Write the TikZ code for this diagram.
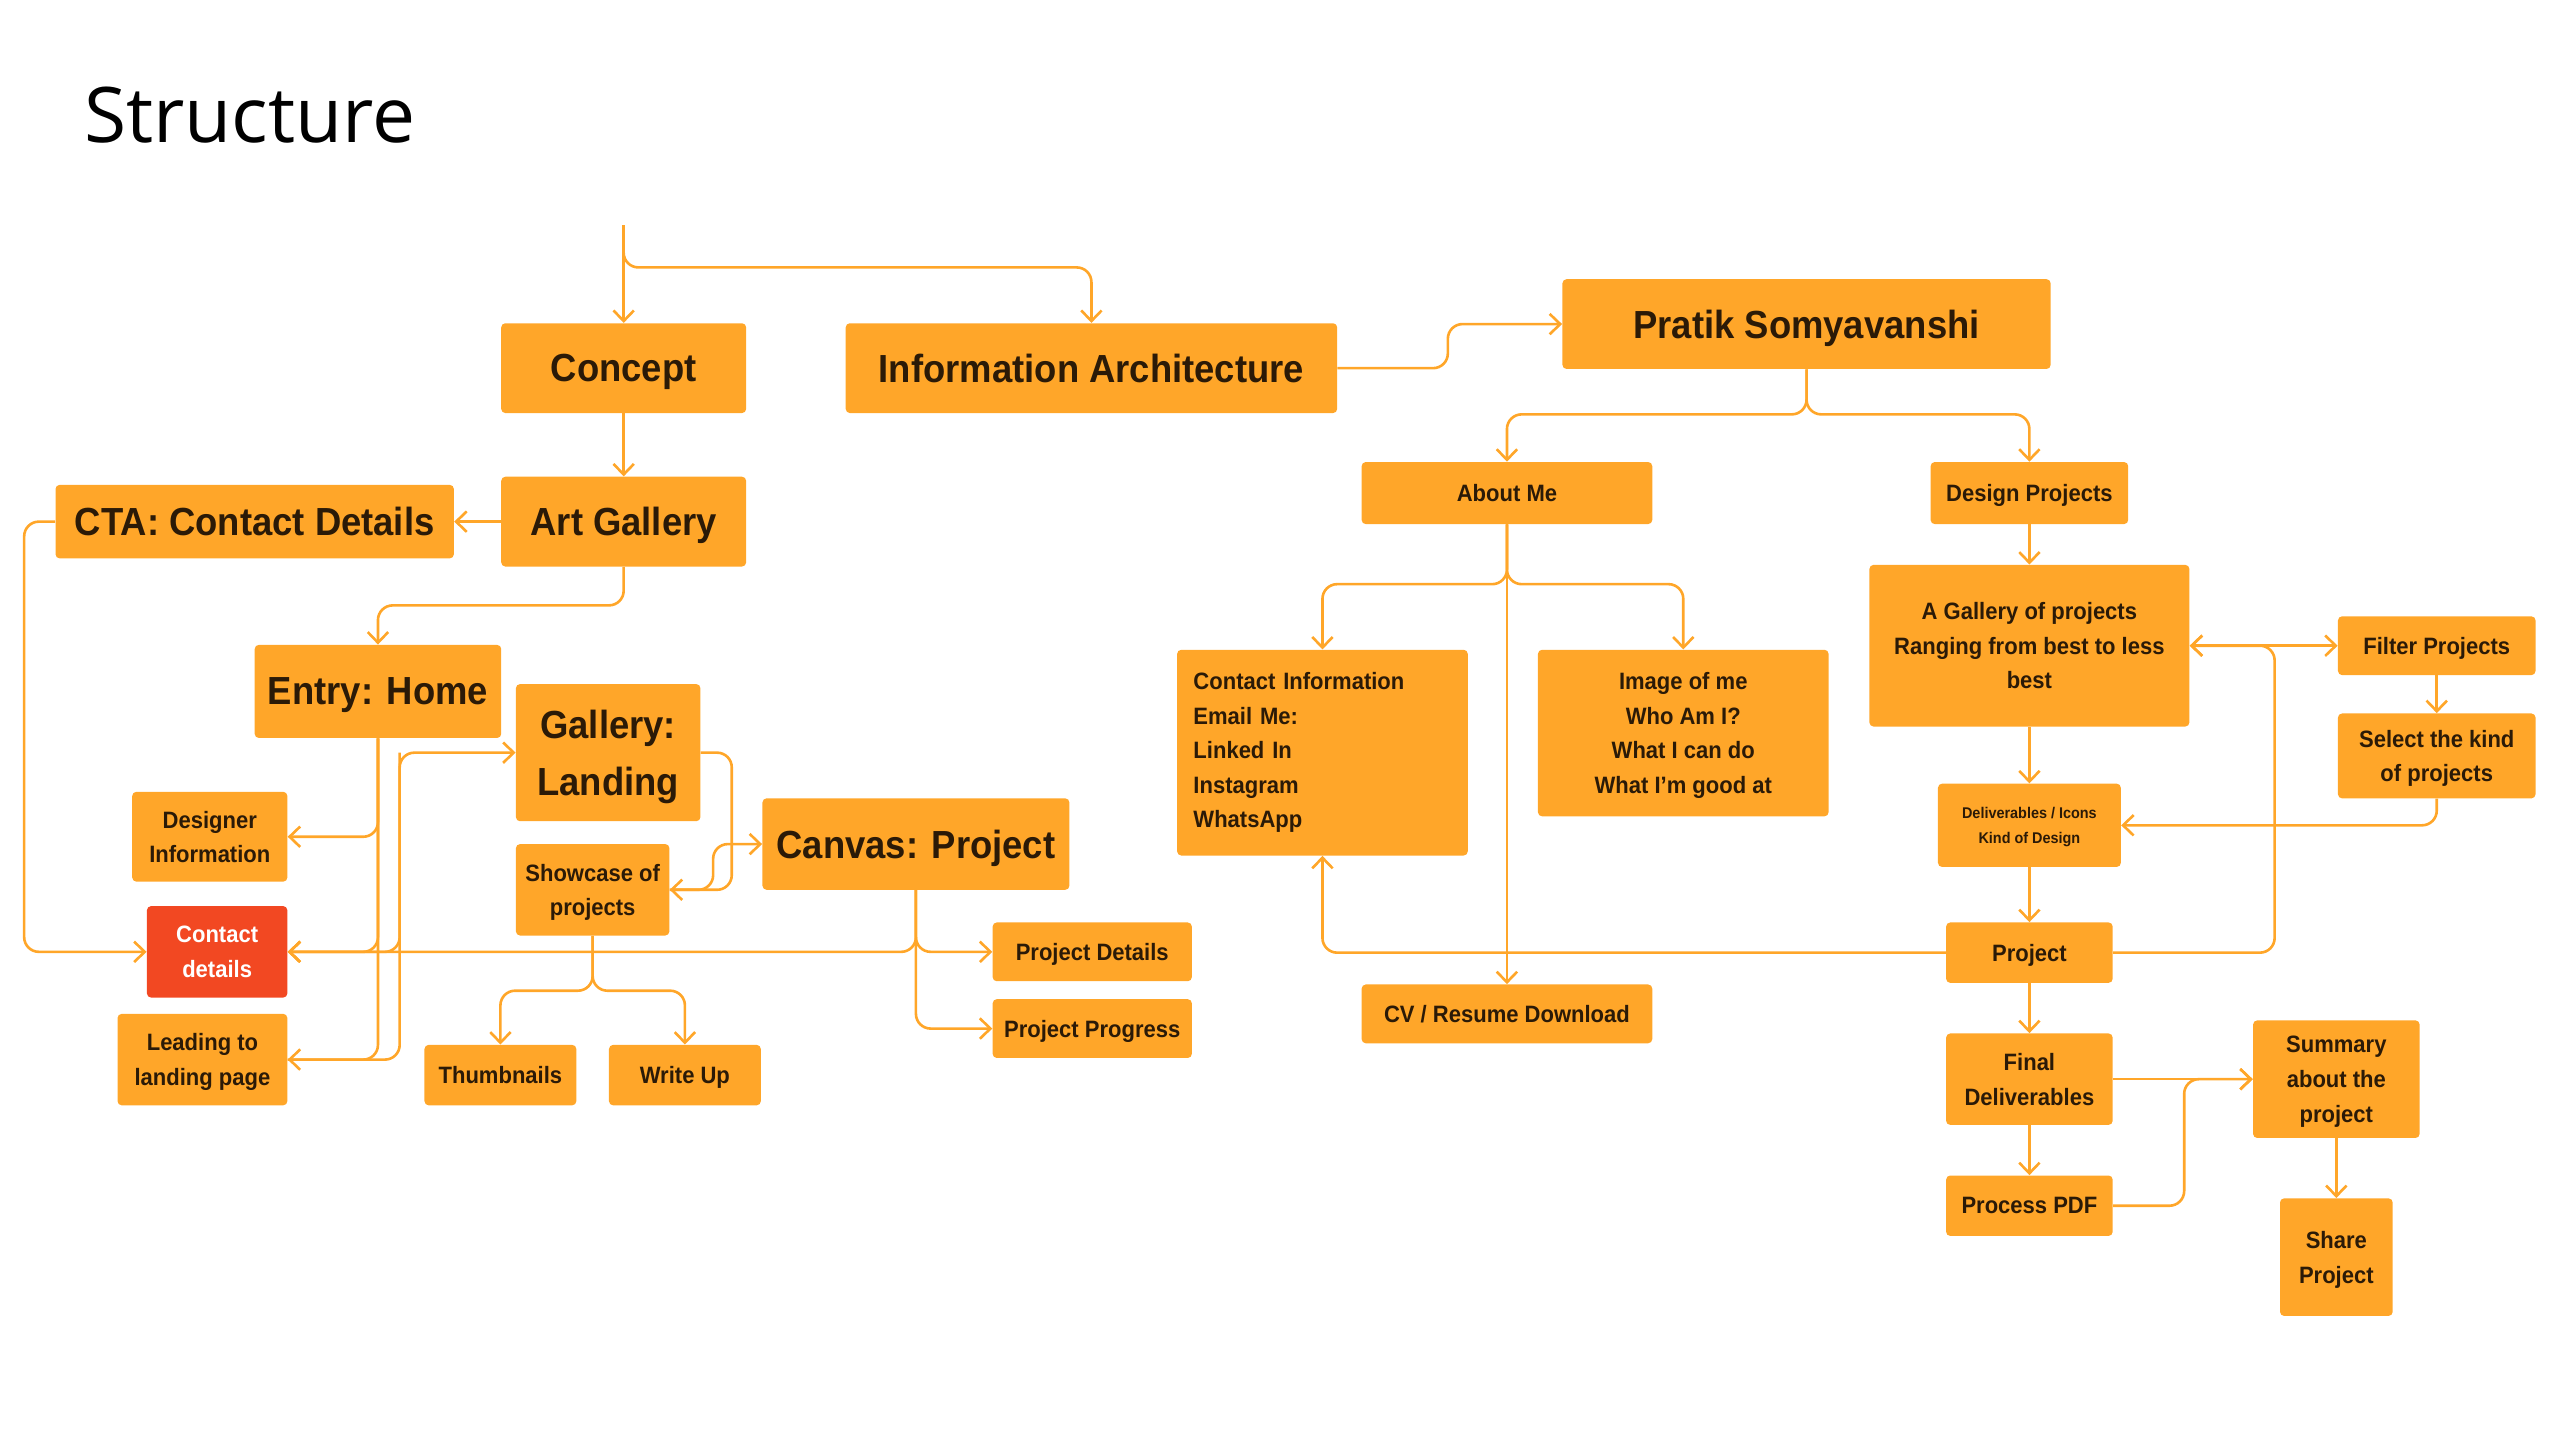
\documentclass[tikz,border=0pt]{standalone}
\usepackage{fontspec}
\setmainfont{Liberation Sans}[FakeStretch=0.93]
\newfontfamily\titlefont{Open Sans}
\usepackage{xcolor}
\usepackage{tikz}
\usetikzlibrary{arrows.meta,positioning}
\definecolor{boxfill}{HTML}{FFA629}
\definecolor{linecol}{HTML}{FFA629}
\definecolor{alertred}{HTML}{F24822}
\definecolor{boxtext}{HTML}{2B1A07}
\tikzstyle{block} = [rectangle, fill=boxfill, text=boxtext, rounded corners=2.5pt, inner sep=0pt, align=center, text depth=0pt]
\tikzstyle{big} = [block, font=\fontsize{24}{35}\selectfont\bfseries]
\tikzstyle{mid} = [block, font=\fontsize{14.5}{21.2}\selectfont\bfseries]
\tikzstyle{small} = [block, font=\fontsize{9.5}{15}\selectfont\bfseries]
\tikzstyle{line} = [draw=linecol, line width=1.6pt, rounded corners=9pt, ->]
\begin{document}
\begin{tikzpicture}[x=1pt, y=-1pt, >={Straight Barb[length=6.5pt,width=12.5pt]}]
            \useasboundingbox (0,0) rectangle (1568,882);

            \node[anchor=base west, font=\titlefont\fontsize{47}{50}\selectfont] (title) at (48,87) {Structure};

            \node[big, minimum width=150pt, minimum height=55pt] (concept) at (382,225.5) {Concept};
            \node[big, minimum width=301pt, minimum height=55pt] (infoarch) at (668.5,225.5) {Information Architecture};
            \node[big, minimum width=299pt, minimum height=55pt] (pratik) at (1106.5,198.5) {Pratik Somyavanshi};
            \node[big, minimum width=150pt, minimum height=55pt] (artgallery) at (382,319.5) {Art Gallery};
            \node[big, minimum width=244pt, minimum height=45pt] (cta) at (156,319.5) {CTA: Contact Details};
            \node[big, minimum width=151pt, minimum height=57pt] (entry) at (231.5,423.5) {Entry: Home};
            \node[big, minimum width=113pt, minimum height=84pt] (gallery) at (372.5,461) {Gallery:\\Landing};
            \node[big, minimum width=188pt, minimum height=56pt] (canvas) at (561,517) {Canvas: Project};

            \node[mid, minimum width=95pt, minimum height=55pt] (designer) at (128.5,512.5) {Designer\\Information};
            \node[mid, fill=alertred, text=white, minimum width=86pt, minimum height=56pt] (contact) at (133,583) {Contact\\details};
            \node[mid, minimum width=104pt, minimum height=56pt] (leading) at (124,649) {Leading to\\landing page};
            \node[mid, minimum width=94pt, minimum height=56pt] (showcase) at (363,545) {Showcase of\\projects};
            \node[mid, minimum width=93pt, minimum height=37pt] (thumbs) at (306.5,658.5) {Thumbnails};
            \node[mid, minimum width=93pt, minimum height=37pt] (writeup) at (419.5,658.5) {Write Up};
            \node[mid, minimum width=122pt, minimum height=36pt] (pdetails) at (669,583) {Project Details};
            \node[mid, minimum width=122pt, minimum height=36pt] (pprogress) at (669,630) {Project Progress};

            \node[mid, minimum width=178pt, minimum height=38pt] (aboutme) at (923,302) {About Me};
            \node[mid, minimum width=121pt, minimum height=38pt] (designproj) at (1243,302) {Design Projects};
            \node[mid, minimum width=178pt, minimum height=126pt, text width=158pt, text depth=, align=left] (contactinfo) at (810,461) {Contact Information\\Email Me:\\Linked In\\Instagram\\WhatsApp};
            \node[mid, minimum width=178pt, minimum height=102pt] (imageofme) at (1031,449) {Image of me\\Who Am I?\\What I can do\\What I’m good at};
            \node[mid, minimum width=178pt, minimum height=36pt] (cv) at (923,621) {CV / Resume Download};

            \node[mid, minimum width=196pt, minimum height=99pt] (agallery) at (1243,395.5) {A Gallery of projects\\Ranging from best to less\\best};
            \node[mid, minimum width=121pt, minimum height=36pt] (filter) at (1492.5,395.5) {Filter Projects};
            \node[mid, minimum width=121pt, minimum height=52pt] (select) at (1492.5,463) {Select the kind\\of projects};
            \node[small, minimum width=112pt, minimum height=51pt] (deliv) at (1243,505.5) {Deliverables / Icons\\Kind of Design};
            \node[mid, minimum width=102pt, minimum height=37pt] (project) at (1243,583.5) {Project};
            \node[mid, minimum width=102pt, minimum height=56pt] (final) at (1243,661) {Final\\Deliverables};
            \node[mid, minimum width=102pt, minimum height=37pt] (pdf) at (1243,738.5) {Process PDF};
            \node[mid, minimum width=102pt, minimum height=72pt] (summary) at (1431,661) {Summary\\about the\\project};
            \node[mid, minimum width=69pt, minimum height=72pt] (share) at (1431,770) {Share\\Project};

            \coordinate (start) at (382,138);

            \path[line] (start) -- (concept.north);
            \path[line] (start) |- ([yshift=34pt]infoarch.north) -- (infoarch.north);
            \path[line] (concept) -- (artgallery);
            \path[line] (artgallery) -- (cta);
            \path[line] (artgallery.south) |- ([yshift=24pt]entry.north) -- (entry.north);
            \path[line] (infoarch.east) -| ([xshift=-70pt]pratik.west) -- (pratik.west);

            \path[line] (cta.west) -| ([xshift=-75pt]contact.west) -- (contact.west);
            \path[line] (entry.south) |- (designer.east);
            \path[line] (entry.south) |- (contact.east);
            \path[line] (entry.south) |- (leading.east);
            \path[line] (leading.east) -| ([xshift=-71pt]gallery.west) -- (gallery.west);
            \path[line] ([xshift=-71pt]gallery.west) |- (contact.east);
            \path[line] (gallery.east) -| ([xshift=38pt]showcase.east) -- (showcase.east);
            \path[line] (showcase.east) -| ([xshift=-30pt]canvas.west) -- (canvas.west);
            \path[line] (showcase.south) |- ([yshift=33pt]thumbs.north) -- (thumbs.north);
            \path[line] (showcase.south) |- ([yshift=33pt]writeup.north) -- (writeup.north);
            \path[line] (canvas.south) |- (pdetails.west);
            \path[line] (canvas.south) |- (pprogress.west);
            \path[line] (canvas.south) |- (contact.east);

            \path[line] (pratik.south) |- ([yshift=29pt]aboutme.north) -- (aboutme.north);
            \path[line] (pratik.south) |- ([yshift=29pt]designproj.north) -- (designproj.north);
            \path[line] (aboutme) -- (cv);
            \path[line] (aboutme.south) |- ([yshift=40pt]contactinfo.north) -- (contactinfo.north);
            \path[line] (aboutme.south) |- ([yshift=40pt]imageofme.north) -- (imageofme.north);
            \path[line] (project.west) -| (contactinfo.south);

            \path[line] (designproj) -- (agallery);
            \path[line] (agallery) -- (deliv);
            \path[line] (deliv) -- (project);
            \path[line] (project) -- (final);
            \path[line] (final) -- (pdf);
            \path[line, <->] (agallery) -- (filter);
            \path[line] (project.east) -| ([xshift=52pt]agallery.east) -- (agallery.east);
            \path[line] (filter) -- (select);
            \path[line] (select.south) |- (deliv.east);
            \path[line] (final) -- (summary);
            \path[line] (pdf.east) -| ([xshift=-42pt]summary.west) -- (summary.west);
            \path[line] (summary) -- (share);

        \end{tikzpicture}
\end{document}
